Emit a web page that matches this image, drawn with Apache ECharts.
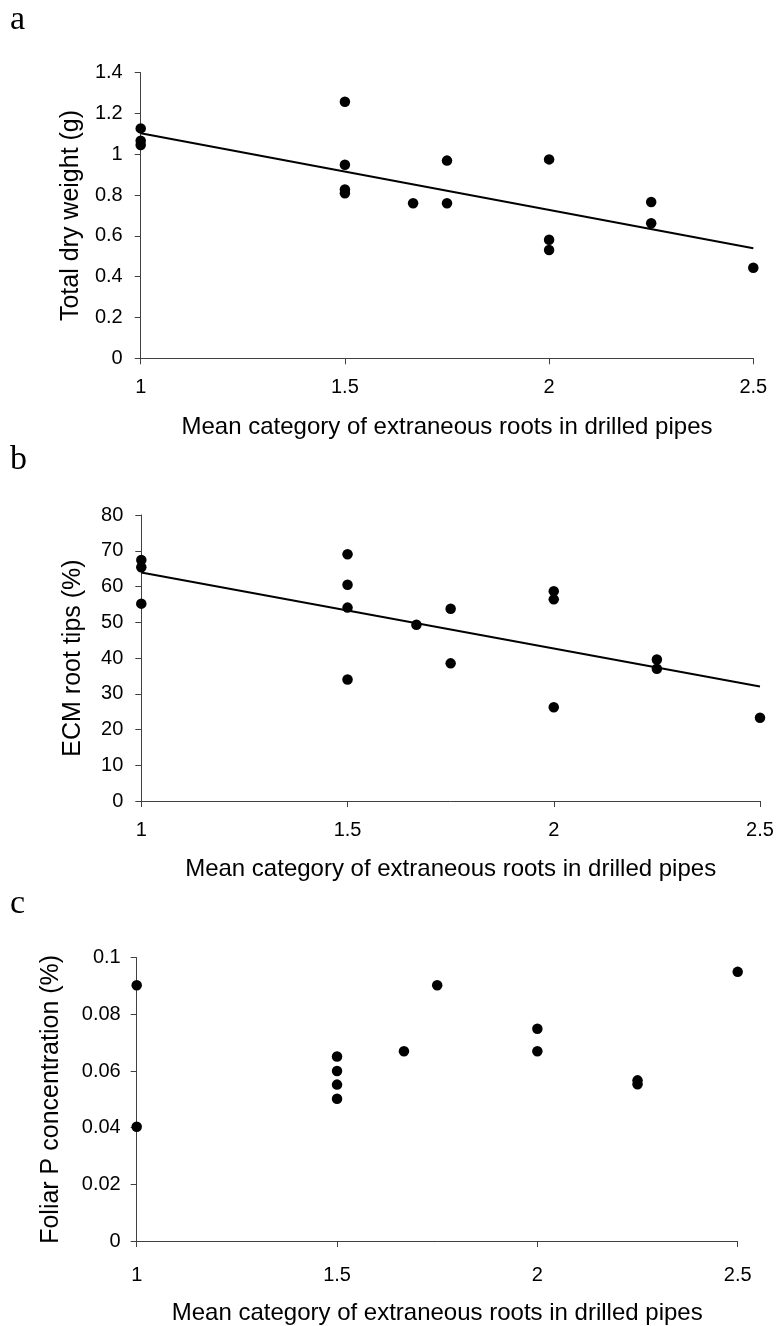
<!DOCTYPE html>
<html><head><meta charset="utf-8">
<script src="https://cdn.jsdelivr.net/npm/echarts@6/dist/echarts.min.js"></script>
<style>html,body{margin:0;padding:0;background:#fff}#c{width:777px;height:1326px}</style>
</head><body><div id="c"></div>
<script>
// ---- data ----
const panelLetters = ['a', 'b', 'c'];
const xTitle = 'Mean category of extraneous roots in drilled pipes';
const yTitles = ['Total dry weight (g)', 'ECM root tips (%)', 'Foliar P concentration (%)'];

const xA = [1, 1, 1, 1.5, 1.5, 1.5, 1.5, 1.667, 1.75, 1.75, 2, 2, 2, 2.25, 2.25, 2.5];
const yA = [1.127, 1.067, 1.046, 1.258, 0.949, 0.828, 0.809, 0.76, 0.969, 0.76, 0.975, 0.581, 0.531, 0.766, 0.662, 0.444];

const xB = [1, 1, 1, 1.5, 1.5, 1.5, 1.5, 1.667, 1.75, 1.75, 2, 2, 2, 2.25, 2.25, 2.5];
const yB = [67.4, 65.4, 55.2, 69.0, 60.5, 54.1, 34.0, 49.3, 53.8, 38.5, 58.7, 56.4, 26.2, 39.6, 37.0, 23.3];

const xC = [1, 1, 1.5, 1.5, 1.5, 1.5, 1.667, 1.75, 2, 2, 2.25, 2.25, 2.5];
const yC = [0.0903, 0.0403, 0.0651, 0.060, 0.0552, 0.0502, 0.067, 0.0903, 0.0749, 0.067, 0.0567, 0.0553, 0.095];

const trendX = [1, 2.5];
const trendA = [1.103, 0.539];
const trendB = [63.9, 32.0];

const xMin = 1, xMax = 2.5, xStep = 0.5;
const yMaxes = [1.4, 80, 0.1];
const ySteps = [0.2, 10, 0.02];

// ---- layout / style ----
const grids = [
  { left: 140.7, right: 23.7, top: 72.7, height: 285.6 },
  { left: 141.3, right: 17, top: 515, height: 286 },
  { left: 136.7, right: 39.3, top: 957.7, height: 285.6 }
];
const xLabelMargin = [19, 19, 24];
const xNameGap = [57, 56, 60];
const yNameGap = [57.5, 56, 73];
const yLabelMargin = [18, 18, 16];
const letterTop = [3, 443, 887];

const AX = '#404040';
const FONT = 'Liberation Sans, Arial, sans-serif';
const zip = (xs, ys) => xs.map((x, i) => [x, ys[i]]);

const xAxes = [], yAxes = [], series = [];
[0, 1, 2].forEach(i => {
  xAxes.push({
    type: 'value', gridIndex: i, min: xMin, max: xMax, interval: xStep,
    name: xTitle, nameLocation: 'middle', nameGap: xNameGap[i],
    nameTextStyle: { fontFamily: FONT, fontSize: 24, color: '#000' },
    axisLine: { show: true, onZero: false, lineStyle: { color: AX, width: 1 } },
    axisTick: { show: true, length: 6, lineStyle: { color: AX } },
    axisLabel: { fontFamily: FONT, fontSize: 20, color: '#000', margin: xLabelMargin[i] },
    splitLine: { show: false }
  });
  yAxes.push({
    type: 'value', gridIndex: i, min: 0, max: yMaxes[i], interval: ySteps[i],
    name: yTitles[i], nameLocation: 'middle', nameGap: yNameGap[i], nameRotate: 90,
    nameTextStyle: { fontFamily: FONT, fontSize: 25, color: '#000' },
    axisLine: { show: true, onZero: false, lineStyle: { color: AX, width: 1 } },
    axisTick: { show: true, length: 6, lineStyle: { color: AX } },
    axisLabel: { fontFamily: FONT, fontSize: 20, color: '#000', margin: yLabelMargin[i] },
    splitLine: { show: false }
  });
});

const scatterStyle = { color: '#000', opacity: 1 };
const lineStyle = { color: '#000', width: 2 };
series.push({ type: 'line', xAxisIndex: 0, yAxisIndex: 0, data: zip(trendX, trendA), showSymbol: false, lineStyle, z: 1, silent: true });
series.push({ type: 'line', xAxisIndex: 1, yAxisIndex: 1, data: zip(trendX, trendB), showSymbol: false, lineStyle, z: 1, silent: true });
series.push({ type: 'scatter', xAxisIndex: 0, yAxisIndex: 0, data: zip(xA, yA), symbolSize: 10.5, itemStyle: scatterStyle, z: 3 });
series.push({ type: 'scatter', xAxisIndex: 1, yAxisIndex: 1, data: zip(xB, yB), symbolSize: 10.5, itemStyle: scatterStyle, z: 3 });
series.push({ type: 'scatter', xAxisIndex: 2, yAxisIndex: 2, data: zip(xC, yC), symbolSize: 10.5, itemStyle: scatterStyle, z: 3 });

const chart = echarts.init(document.getElementById('c'), null, { renderer: 'canvas' });
chart.setOption({
  backgroundColor: '#fff',
  animation: false,
  grid: grids,
  xAxis: xAxes,
  yAxis: yAxes,
  series: series,
  graphic: panelLetters.map((t, i) => ({
    type: 'text', left: 10, top: letterTop[i],
    style: { text: t, font: '34px "Liberation Serif", "Times New Roman", serif', fill: '#000' }
  }))
});
</script>
</body></html>
